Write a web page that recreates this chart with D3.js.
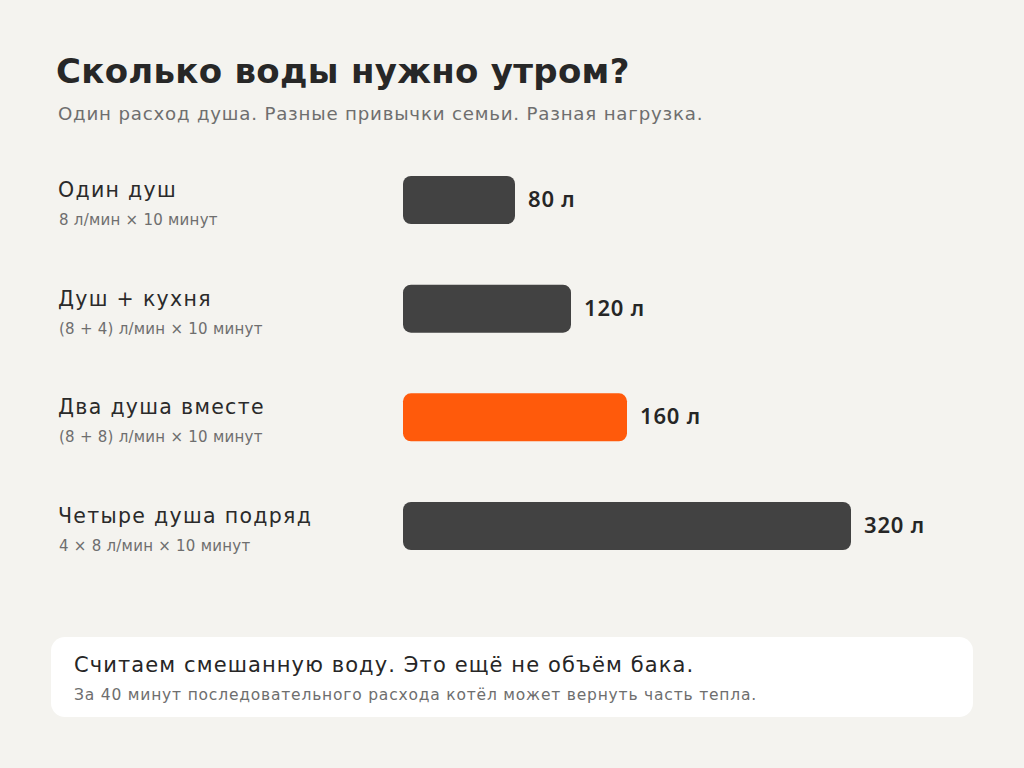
<!DOCTYPE html>
<html>
<head>
<meta charset="utf-8">
<script src="https://cdn.jsdelivr.net/npm/d3@7"></script>
<style>
  body { margin: 0; background: #f4f3ef; }
  svg { display: block; font-family: "DejaVu Sans", sans-serif; }
</style>
</head>
<body>
<svg id="chart" width="1024" height="768"></svg>
<script>
// data
var labels = ["Один душ", "Душ + кухня", "Два душа вместе", "Четыре душа подряд"];
var formulas = ["8 л/мин × 10 минут", "(8 + 4) л/мин × 10 минут", "(8 + 8) л/мин × 10 минут", "4 × 8 л/мин × 10 минут"];
var litres = [80, 120, 160, 320];
var highlight = [false, false, true, false];

var svg = d3.select("#chart");

svg.append("rect").attr("width", 1024).attr("height", 768).attr("fill", "#f4f3ef");

svg.append("text")
   .attr("x", 56).attr("y", 83)
   .attr("font-size", 34).attr("font-weight", 700)
   .attr("letter-spacing", 0.3)
   .attr("fill", "#272727")
   .text("Сколько воды нужно утром?");

svg.append("text")
   .attr("x", 58).attr("y", 120)
   .attr("font-size", 18.2)
   .attr("letter-spacing", 0.8)
   .attr("fill", "#6e6e6e")
   .text("Один расход душа. Разные привычки семьи. Разная нагрузка.");

var x = d3.scaleLinear().domain([0, 320]).range([403, 851]);
var y = d3.scaleBand().domain(labels).range([176, 550]).paddingInner(0.558).paddingOuter(0);

var rows = svg.selectAll("g.row")
   .data(labels)
   .enter().append("g")
   .attr("class", "row");

rows.append("rect")
   .attr("x", x(0))
   .attr("y", function(d) { return y(d); })
   .attr("width", function(d, i) { return x(litres[i]) - x(0); })
   .attr("height", y.bandwidth())
   .attr("rx", 8)
   .attr("fill", function(d, i) { return highlight[i] ? "#ff5a0b" : "#424242"; });

rows.append("text")
   .attr("x", function(d, i) { return x(litres[i]) + 13; })
   .attr("y", function(d) { return y(d) + y.bandwidth() / 2 + 7; })
   .attr("font-family", "'Noto Sans', sans-serif")
   .attr("font-size", 22).attr("font-weight", 600)
   .attr("letter-spacing", 0.8)
   .attr("fill", "#262626")
   .text(function(d, i) { return litres[i] + " л"; });

rows.append("text")
   .attr("x", 58)
   .attr("y", function(d) { return y(d) + 21; })
   .attr("font-size", 20.5)
   .attr("letter-spacing", 1.3)
   .attr("fill", "#2a2a2a")
   .text(function(d) { return d; });

rows.append("text")
   .attr("x", 59)
   .attr("y", function(d) { return y(d) + 49; })
   .attr("font-size", 15)
   .attr("letter-spacing", 0.25)
   .attr("fill", "#6e6e6e")
   .text(function(d, i) { return formulas[i]; });

// note box
svg.append("rect")
   .attr("x", 51).attr("y", 637)
   .attr("width", 922).attr("height", 80)
   .attr("rx", 14)
   .attr("fill", "#ffffff");

svg.append("text")
   .attr("x", 74).attr("y", 672)
   .attr("font-size", 21)
   .attr("letter-spacing", 1.1)
   .attr("fill", "#262626")
   .text("Считаем смешанную воду. Это ещё не объём бака.");

svg.append("text")
   .attr("x", 74).attr("y", 700)
   .attr("font-size", 15.5)
   .attr("letter-spacing", 0.8)
   .attr("fill", "#6e6e6e")
   .text("За 40 минут последовательного расхода котёл может вернуть часть тепла.");
</script>
</body>
</html>
